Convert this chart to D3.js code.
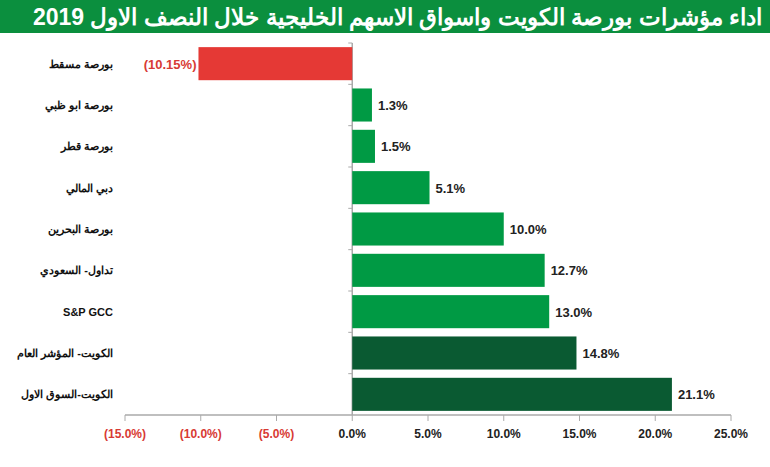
<!DOCTYPE html>
<html><head><meta charset="utf-8">
<script src="https://cdn.jsdelivr.net/npm/d3@7"></script>
<style>body{margin:0;background:#fff}text{font-family:"Liberation Sans",Arial,sans-serif;font-weight:bold}</style>
</head><body>
<script>
const w = 770, h = 467
const categories = ["بورصة مسقط", "بورصة ابو ظبي", "بورصة قطر", "دبي المالي", "بورصة البحرين", "تداول- السعودي", "S&P GCC", "الكويت- المؤشر العام", "الكويت-السوق الاول"]
const values = [-10.15, 1.3, 1.5, 5.1, 10.0, 12.7, 13.0, 14.8, 21.1]
const labels = ["(10.15%)", "1.3%", "1.5%", "5.1%", "10.0%", "12.7%", "13.0%", "14.8%", "21.1%"]
const ticks = [-15, -10, -5, 0, 5, 10, 15, 20, 25]
const tickLabels = ["(15.0%)", "(10.0%)", "(5.0%)", "0.0%", "5.0%", "10.0%", "15.0%", "20.0%", "25.0%"]

const svg = d3.select("body").append("svg").attr("width", w).attr("height", h)

svg.append("rect").attr("width", w).attr("height", 33).attr("fill", "#0b8f3e")
const title = svg.append("text").attr("x", w - 8).attr("y", 25).attr("text-anchor", "start")
    .attr("direction", "rtl").attr("fill", "white").attr("font-size", "23px")
    .text("اداء مؤشرات بورصة الكويت واسواق الاسهم الخليجية خلال النصف الاول 2019")
// shrink the title if it does not fit the bar
const tw = title.node().getComputedTextLength()
if (tw > w - 16) title.attr("textLength", w - 16).attr("lengthAdjust", "spacingAndGlyphs")

const x = d3.scaleLinear().domain([-15, 25]).range([125, 731])
const y = d3.scaleBand().domain(categories).range([43, 415]).paddingInner(0.2).paddingOuter(0.1)

// axis lines
svg.append("line").attr("x1", x(-15)).attr("x2", x(25)).attr("y1", 415).attr("y2", 415).attr("stroke", "#aaa").attr("stroke-width", 1.5)
svg.append("line").attr("x1", x(0)).attr("x2", x(0)).attr("y1", 43).attr("y2", 415).attr("stroke", "#aaa").attr("stroke-width", 1.5)
ticks.forEach(t => {
    svg.append("line").attr("x1", x(t)).attr("x2", x(t)).attr("y1", 415).attr("y2", 421).attr("stroke", "#aaa")
})
categories.forEach((c, i) => {
    const yy = 43 + i * (372 / 9)
    svg.append("line").attr("x1", x(0) - 4).attr("x2", x(0)).attr("y1", yy).attr("y2", yy).attr("stroke", "#aaa")
})
svg.selectAll(".tick").data(ticks).enter().append("text")
    .attr("x", d => x(d)).attr("y", 438).attr("text-anchor", "middle").attr("font-size", "12px")
    .attr("fill", d => d < 0 ? "#d83a34" : "#222").text((d, i) => tickLabels[i])

svg.selectAll(".bar").data(values).enter().append("rect")
    .attr("x", d => x(Math.min(0, d))).attr("width", d => Math.abs(x(d) - x(0)))
    .attr("y", (d, i) => y(categories[i])).attr("height", y.bandwidth())
    .attr("fill", (d, i) => d < 0 ? "#e53935" : i >= 7 ? "#0a5a32" : "#009a44")

svg.selectAll(".val").data(values).enter().append("text")
    .attr("x", d => d < 0 ? x(d) - 2 : x(d) + 6)
    .attr("y", (d, i) => y(categories[i]) + y.bandwidth() / 2 + 5)
    .attr("text-anchor", d => d < 0 ? "end" : "start").attr("font-size", "13px")
    .attr("fill", d => d < 0 ? "#d83a34" : "#222").text((d, i) => labels[i])

svg.selectAll(".cat").data(categories).enter().append("text")
    .attr("x", 113).attr("y", d => y(d) + y.bandwidth() / 2 + 4)
    .attr("font-size", "11px").attr("fill", "#111")
    .attr("direction", d => d.startsWith("S&P") ? "ltr" : "rtl")
    .attr("text-anchor", d => d.startsWith("S&P") ? "end" : "start")
    .text(d => d)
</script>
</body></html>
